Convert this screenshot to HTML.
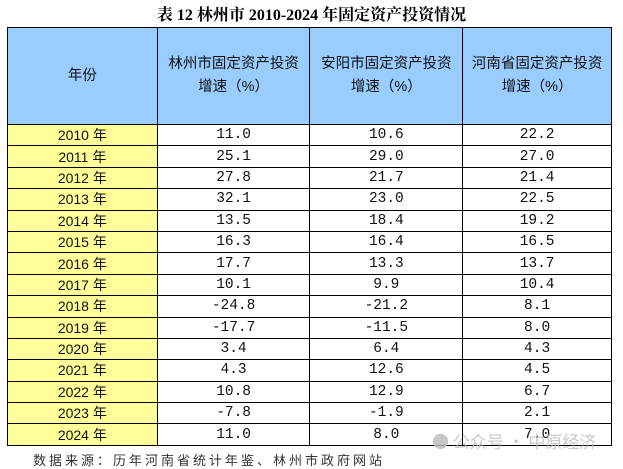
<!DOCTYPE html>
<html><head><meta charset="utf-8"><style>
body{margin:0;width:623px;height:467px;background:#fff;position:relative;overflow:hidden;font-family:"Liberation Mono","Noto Sans CJK SC",monospace;}
.t{position:absolute;top:2px;left:0;width:623px;text-align:center;font:bold 16px "Liberation Serif","Noto Serif CJK SC",serif;color:#000;}
table{position:absolute;left:7px;top:27px;border-collapse:collapse;width:605px;}
td{border:1px solid #000;text-align:center;font-size:14.5px;height:20.4px;padding:0;color:#111;}
th{border:1px solid #000;background:#99ccff;font:normal 14.5px "Liberation Sans","Noto Sans CJK SC",sans-serif;height:96px;line-height:23px;color:#111;padding:0;}
td.y{background:#ffff99;font-family:"Liberation Sans","Noto Sans CJK SC",sans-serif;font-size:14px;}
.f{position:absolute;left:33px;top:450px;font:13px "Noto Sans CJK SC",sans-serif;color:#333;letter-spacing:3px;}
.w{position:absolute;left:432px;top:428px;font:17px "Noto Sans CJK SC",sans-serif;color:#bbb;opacity:.8;}
</style></head><body>
<div class="t">表 12 林州市 2010-2024 年固定资产投资情况</div>
<table>
<colgroup><col style="width:150px"><col style="width:153px"><col style="width:153px"><col style="width:149px"></colgroup>
<tr><th>年份</th><th>林州市固定资产投资<br>增速（%）</th><th>安阳市固定资产投资<br>增速（%）</th><th>河南省固定资产投资<br>增速（%）</th></tr>
<tr><td class="y">2010 年</td><td>11.0</td><td>10.6</td><td>22.2</td></tr>
<tr><td class="y">2011 年</td><td>25.1</td><td>29.0</td><td>27.0</td></tr>
<tr><td class="y">2012 年</td><td>27.8</td><td>21.7</td><td>21.4</td></tr>
<tr><td class="y">2013 年</td><td>32.1</td><td>23.0</td><td>22.5</td></tr>
<tr><td class="y">2014 年</td><td>13.5</td><td>18.4</td><td>19.2</td></tr>
<tr><td class="y">2015 年</td><td>16.3</td><td>16.4</td><td>16.5</td></tr>
<tr><td class="y">2016 年</td><td>17.7</td><td>13.3</td><td>13.7</td></tr>
<tr><td class="y">2017 年</td><td>10.1</td><td>9.9</td><td>10.4</td></tr>
<tr><td class="y">2018 年</td><td>-24.8</td><td>-21.2</td><td>8.1</td></tr>
<tr><td class="y">2019 年</td><td>-17.7</td><td>-11.5</td><td>8.0</td></tr>
<tr><td class="y">2020 年</td><td>3.4</td><td>6.4</td><td>4.3</td></tr>
<tr><td class="y">2021 年</td><td>4.3</td><td>12.6</td><td>4.5</td></tr>
<tr><td class="y">2022 年</td><td>10.8</td><td>12.9</td><td>6.7</td></tr>
<tr><td class="y">2023 年</td><td>-7.8</td><td>-1.9</td><td>2.1</td></tr>
<tr><td class="y">2024 年</td><td>11.0</td><td>8.0</td><td>7.0</td></tr>
</table>
<div class="w">● 公众号 · 中原经济</div>
<div class="f">数据来源：历年河南省统计年鉴、林州市政府网站</div>
</body></html>
